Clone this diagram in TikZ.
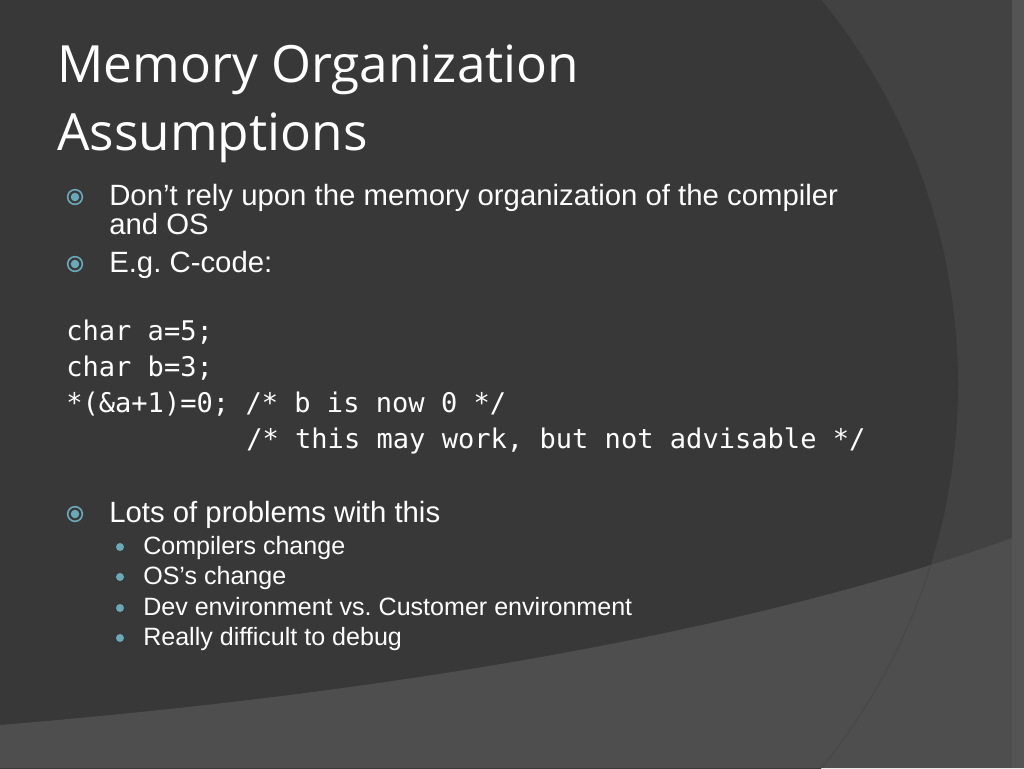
\documentclass[tikz,border=0pt]{standalone}
\usepackage{fontspec}
\setmainfont{Liberation Sans}
\newfontfamily\titlefont{Open Sans}
\newfontfamily\codefont{DejaVu Sans Mono}
\frenchspacing
\begin{document}
\begin{tikzpicture}[x=0.75pt,y=-0.75pt,
  txt/.style={anchor=base west,inner sep=0,text=white,font=\fontsize{22}{26}\selectfont},
  sub/.style={anchor=base west,inner sep=0,text=white,font=\fontsize{18.8}{22}\selectfont},
  code/.style={anchor=base west,inner sep=0,text=white,font=\codefont\fontsize{20.3}{24}\selectfont},
  ttl/.style={anchor=base west,inner sep=0,text=white,font=\titlefont\fontsize{38.5}{44}\selectfont},
  sbul/.style={circle,fill=bulcol,minimum size=6pt,inner sep=0}]
\definecolor{bulcol}{HTML}{6AA9B8}
\useasboundingbox (0,0) rectangle (1024,768);
\fill[fill={rgb,255:red,66;green,66;blue,66}] (0,0) rectangle (1024,768);
\fill[fill={rgb,255:red,56;green,56;blue,56}] (350,384) circle[radius=608];
\fill[fill={rgb,255:red,78;green,78;blue,78}] (0,725) .. controls (300,700) and (700,650) .. (1024,534) -- (1024,768) -- (0,768) -- cycle;
\fill[fill={rgb,255:red,84;green,84;blue,84}] (1012,0) rectangle (1024,768);
\begin{scope}
\clip (0,725) .. controls (300,700) and (700,650) .. (1024,534) -- (1024,768) -- (0,768) -- cycle;
\draw[line width=1pt,color={rgb,255:red,72;green,72;blue,72}] (350,384) circle[radius=608];
\end{scope}
\node[ttl] (t1) at (57,82) {Memory Organization};
\node[ttl] (t2) at (57,150) {Assumptions};
\node[txt] (b1) at (109,205) {Don’t rely upon the memory organization of the compiler};
\node[txt] (b1b) at (109,234) {and OS};
\node[txt] (b2) at (109,272) {E.g. C-code:};
\node[code] (c1) at (66,340) {char a=5;};
\node[code] (c2) at (66,376) {char b=3;};
\node[code] (c3) at (66,412) {*(\&a+1)=0; /* b is now 0 */};
\node[code] (c4) at (246,448) {/* this may work, but not advisable */};
\node[txt] (b3) at (109,522) {Lots of problems with this};
\node[sub] (s1) at (143,554) {Compilers change};
\node[sub] (s2) at (143,584) {OS’s change};
\node[sub] (s3) at (143,615) {Dev environment vs. Customer environment};
\node[sub] (s4) at (143,645) {Really difficult to debug};
\foreach \y/\n in {197/p1,264/p2,514/p3}{
  \node[circle,draw=bulcol,line width=1.2pt,minimum size=11pt,inner sep=0] (\n) at (75,\y) {};
  \fill[bulcol] (\n.center) circle[radius=3.2pt];
}
\foreach \y/\n in {547/q1,577/q2,608/q3,638/q4}{
  \node[sbul] (\n) at (120,\y) {};
}
\end{tikzpicture}
\end{document}
